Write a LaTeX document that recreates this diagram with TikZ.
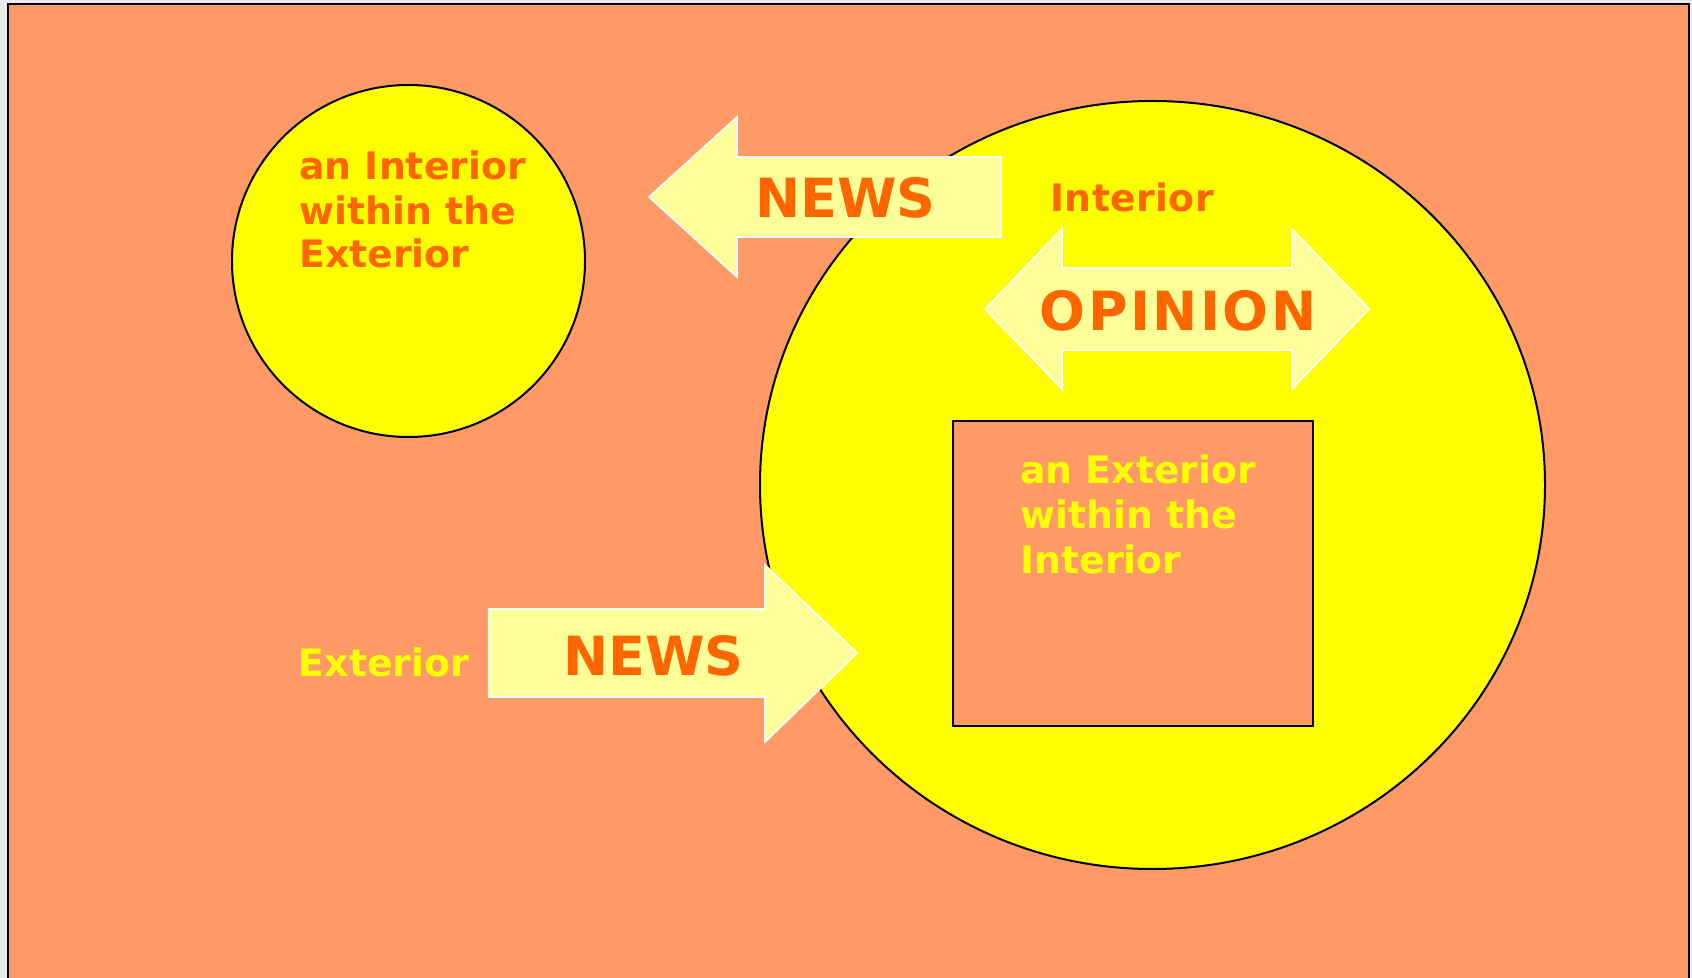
\documentclass[tikz,border=0pt]{standalone}
\usepackage{fontspec}
\setmainfont{DejaVu Sans}
\definecolor{salmon}{RGB}{255,153,102}
\definecolor{pureyellow}{RGB}{255,255,0}
\definecolor{paleyellow}{RGB}{255,255,153}
\definecolor{orangetext}{RGB}{255,102,0}
\definecolor{outergrey}{RGB}{235,235,235}
\tikzset{
  shapeline/.style={draw=black, line width=1pt},
  arrowshape/.style={draw=white, line width=0.8pt, fill=paleyellow, line join=miter},
  smalltext/.style={inner sep=0pt, anchor=base west, font=\fontsize{18.9}{22}\selectfont\bfseries},
  bigtext/.style={inner sep=0pt, anchor=base, font=\fontsize{27}{32}\selectfont\bfseries, text=orangetext},
}
\begin{document}
\begin{tikzpicture}[x=0.5pt, y=-0.5pt]
\useasboundingbox (0,0) rectangle (1692,978);
\fill[outergrey] (0,0) rectangle (1692,978);
\draw[shapeline, fill=salmon] (8,4.5) rectangle (1689,1000);
% small circle
\draw[shapeline, fill=pureyellow] (408.5,261) ellipse [x radius=176.5, y radius=176];
% big circle
\draw[shapeline, fill=pureyellow] (1152.5,485) ellipse [x radius=392.5, y radius=384];
% inner rectangle
\draw[shapeline, fill=salmon] (952.6,421) rectangle (1313,726);
% top NEWS arrow (left)
\draw[arrowshape] (649,197) -- (737,117) -- (737,157) -- (1001,157) -- (1001,237) -- (737,237) -- (737,277) -- cycle;
% bottom NEWS arrow (right)
\draw[arrowshape] (488.6,609) -- (765,609) -- (765,565) -- (857,653) -- (765,742) -- (765,697) -- (488.6,697) -- cycle;
% OPINION double arrow
\draw[arrowshape] (985,309) -- (1062,229) -- (1062,268) -- (1292,268) -- (1292,229) -- (1369,309) -- (1292,389) -- (1292,350) -- (1062,350) -- (1062,389) -- cycle;
% texts
\node[bigtext] (newstop) at (845.5,218) {NEWS};
\node[bigtext] (newsbottom) at (653.5,675) {NEWS};
\node[bigtext] (opinion) at (1178,331) {\addfontfeature{LetterSpace=4.5}OPINION};
\node[smalltext, text=orangetext] (interior) at (1050,212) {\addfontfeature{LetterSpace=1}Interior};
\node[smalltext, text=pureyellow] (exterior) at (298.5,676) {Exterior};
\node[smalltext, text=orangetext] (intA) at (299,180) {an Interior};
\node[smalltext, text=orangetext] (intB) at (299,225) {within the};
\node[smalltext, text=orangetext] (intC) at (299,268) {Exterior};
\node[smalltext, text=pureyellow] (extA) at (1020,484) {an Exterior};
\node[smalltext, text=pureyellow] (extB) at (1020,529) {within the};
\node[smalltext, text=pureyellow] (extC) at (1020,573) {Interior};
\end{tikzpicture}
\end{document}
